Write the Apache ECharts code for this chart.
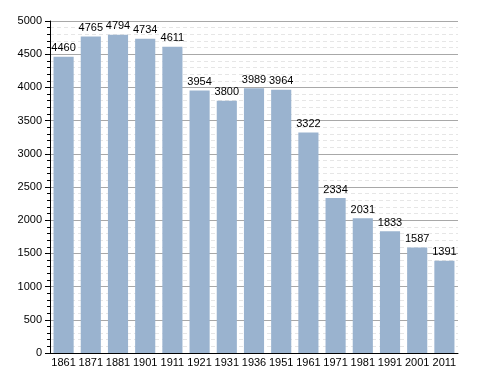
<!DOCTYPE html>
<html><head><meta charset="utf-8">
<script src="https://cdn.jsdelivr.net/npm/echarts@6/dist/echarts.min.js"></script>
<style>html,body{margin:0;padding:0;background:#fff}#c{width:488px;height:373px}</style>
</head><body><div id="c"></div>
<script>
const categories = ['1861','1871','1881','1901','1911','1921','1931','1936','1951','1961','1971','1981','1991','2001','2011'];
const population = [4460,4765,4794,4734,4611,3954,3800,3989,3964,3322,2334,2031,1833,1587,1391];
const yTicks = [0,500,1000,1500,2000,2500,3000,3500,4000,4500,5000];

const chart = echarts.init(document.getElementById('c'), null, {renderer:'canvas'});
chart.setOption({
  animation:false,
  grid:{left:50,right:30,top:21,bottom:20,containLabel:false},
  xAxis:{type:'category',data:categories,
    axisLine:{lineStyle:{color:'#000',width:1}},
    axisTick:{show:false},
    axisLabel:{color:'#000',fontSize:11,fontFamily:'Liberation Sans, Arial',margin:4,interval:0}
  },
  yAxis:{type:'value',min:yTicks[0],max:yTicks[yTicks.length-1],interval:500,
    axisLine:{show:true,lineStyle:{color:'#000',width:1}},
    axisTick:{show:true,length:5,lineStyle:{color:'#000'}},
    minorTick:{show:true,splitNumber:5,length:3,lineStyle:{color:'#000'}},
    splitLine:{show:true,lineStyle:{color:'#a8a8a8',width:1}},
    minorSplitLine:{show:true,lineStyle:{color:'#e6e6e6',type:[4,3],width:1}},
    axisLabel:{color:'#000',fontSize:11,fontFamily:'Liberation Sans, Arial',margin:8,formatter:v=>String(v)}
  },
  series:[{type:'bar',data:population,barCategoryGap:'26%',
    itemStyle:{color:'#9ab3cf'},
    label:{show:true,position:'top',distance:3,color:'#000',fontSize:11,fontFamily:'Liberation Sans, Arial'}
  }]
});
</script></body></html>
